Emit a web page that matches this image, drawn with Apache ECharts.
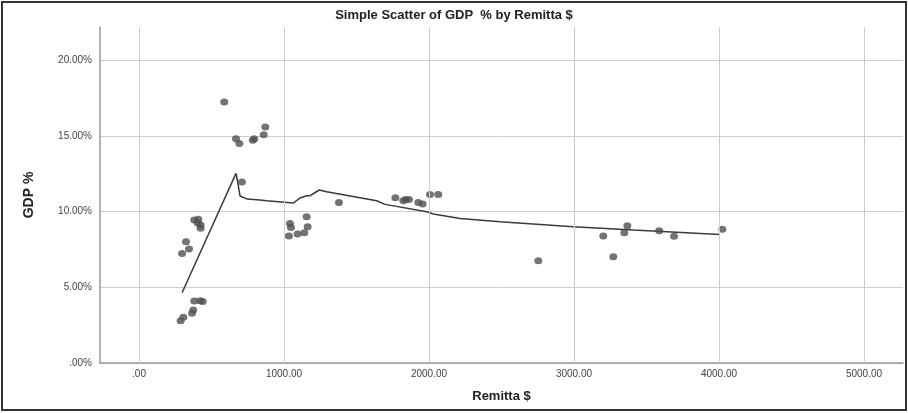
<!DOCTYPE html>
<html>
<head>
<meta charset="utf-8">
<script src="https://cdn.jsdelivr.net/npm/echarts@6/dist/echarts.min.js"></script>
<style>
  html, body { margin: 0; padding: 0; background: #fff; }
  #chart { width: 908px; height: 413px; }
</style>
</head>
<body>
<div id="chart"></div>
<script>
// scatter points
const remitta = [588, 871, 860, 785, 795, 669, 692, 710, 381, 409, 425, 405, 425, 324, 345, 297,
  381, 421, 439, 374, 366, 306, 287, 1041, 1048, 1156, 1163, 1034, 1094, 1140, 1379,
  1768, 1823, 1839, 1862, 1926, 1956, 2007, 2064, 2754, 3202, 3271, 3368, 3347, 3588, 3690, 4023]
const gdp = [17.24, 15.59, 15.08, 14.72, 14.82, 14.82, 14.51, 11.96, 9.44, 9.49, 9.11, 9.25, 8.9, 8.01, 7.53, 7.24,
  4.1, 4.11, 4.07, 3.5, 3.28, 3.02, 2.79, 9.22, 8.96, 9.67, 9.0, 8.39, 8.52, 8.61, 10.61,
  10.92, 10.72, 10.8, 10.8, 10.61, 10.5, 11.13, 11.13, 6.76, 8.39, 7.02, 9.07, 8.61, 8.74, 8.37, 8.83]

// fit line (loess)
const fitX = [297, 669, 678, 697, 747, 834, 880, 1064, 1110, 1156, 1179, 1243, 1294, 1639, 1697, 1984, 2030, 2214, 2490, 2995, 3409, 4007]
const fitY = [4.64, 12.53, 12.09, 11.03, 10.83, 10.77, 10.72, 10.57, 10.9, 11.05, 11.05, 11.43, 11.31, 10.72, 10.48, 9.99, 9.84, 9.55, 9.33, 9.0, 8.78, 8.49]

const xTicks = [0, 1000, 2000, 3000, 4000, 5000]

const chart = echarts.init(document.getElementById('chart'))
chart.setOption({
  animation: false,
  textStyle: { fontFamily: 'Liberation Sans, Arial, sans-serif' },
  title: {
    text: 'Simple Scatter of GDP  % by Remitta $',
    left: 'center',
    top: 4,
    textStyle: { fontSize: 13, fontWeight: 'bold', color: '#222' },
  },
  graphic: [
    {
      type: 'rect',
      shape: { x: 2, y: 2, width: 904, height: 408 },
      style: { fill: 'none', stroke: '#333', lineWidth: 2 },
      silent: true,
    },
  ],
  grid: { left: 100, right: 5, top: 27, bottom: 50 },
  xAxis: {
    type: 'value',
    min: -269,
    max: 5269,
    name: 'Remitta $',
    nameLocation: 'middle',
    nameGap: 27,
    nameTextStyle: { fontSize: 13, fontWeight: 'bold', color: '#222' },
    axisLine: { show: true, lineStyle: { color: '#999', width: 1.5 } },
    axisTick: { show: false },
    splitLine: { show: false },
    axisLabel: {
      customValues: xTicks,
      fontSize: 10,
      color: '#444',
      margin: 6,
      formatter: (v) => (v === 0 ? '.00' : v.toFixed(2)),
    },
  },
  yAxis: {
    type: 'value',
    min: 0,
    max: 22.2,
    interval: 5,
    name: 'GDP %',
    nameLocation: 'middle',
    nameGap: 64,
    nameTextStyle: { fontSize: 14, fontWeight: 'bold', color: '#222' },
    axisLine: { show: true, onZero: false, lineStyle: { color: '#999', width: 1.5 } },
    axisTick: { show: false },
    splitLine: { show: true, showMaxLine: false, lineStyle: { color: '#ccc', width: 1 } },
    axisLabel: {
      fontSize: 10,
      color: '#444',
      margin: 8,
      showMaxLabel: false,
      formatter: (v) => (v === 0 ? '.00%' : v.toFixed(2) + '%'),
    },
  },
  series: [
    {
      type: 'line',
      data: xTicks.map((x) => [x, 0]),
      symbol: 'none',
      lineStyle: { width: 0, opacity: 0 },
      silent: true,
      markLine: {
        silent: true,
        symbol: 'none',
        label: { show: false },
        lineStyle: { color: '#ccc', width: 1, type: 'solid' },
        data: xTicks.map((x) => ({ xAxis: x })),
      },
    },
    {
      type: 'line',
      data: fitX.map((x, i) => [x, fitY[i]]),
      symbol: 'none',
      smooth: false,
      lineStyle: { color: '#3a3a3a', width: 1.5 },
      z: 3,
    },
    {
      type: 'scatter',
      data: remitta.map((x, i) => [x, gdp[i]]),
      symbol: 'circle',
      symbolSize: [8, 7],
      itemStyle: { color: '#505050' },
      z: 4,
    },
  ],
})
</script>
</body>
</html>
